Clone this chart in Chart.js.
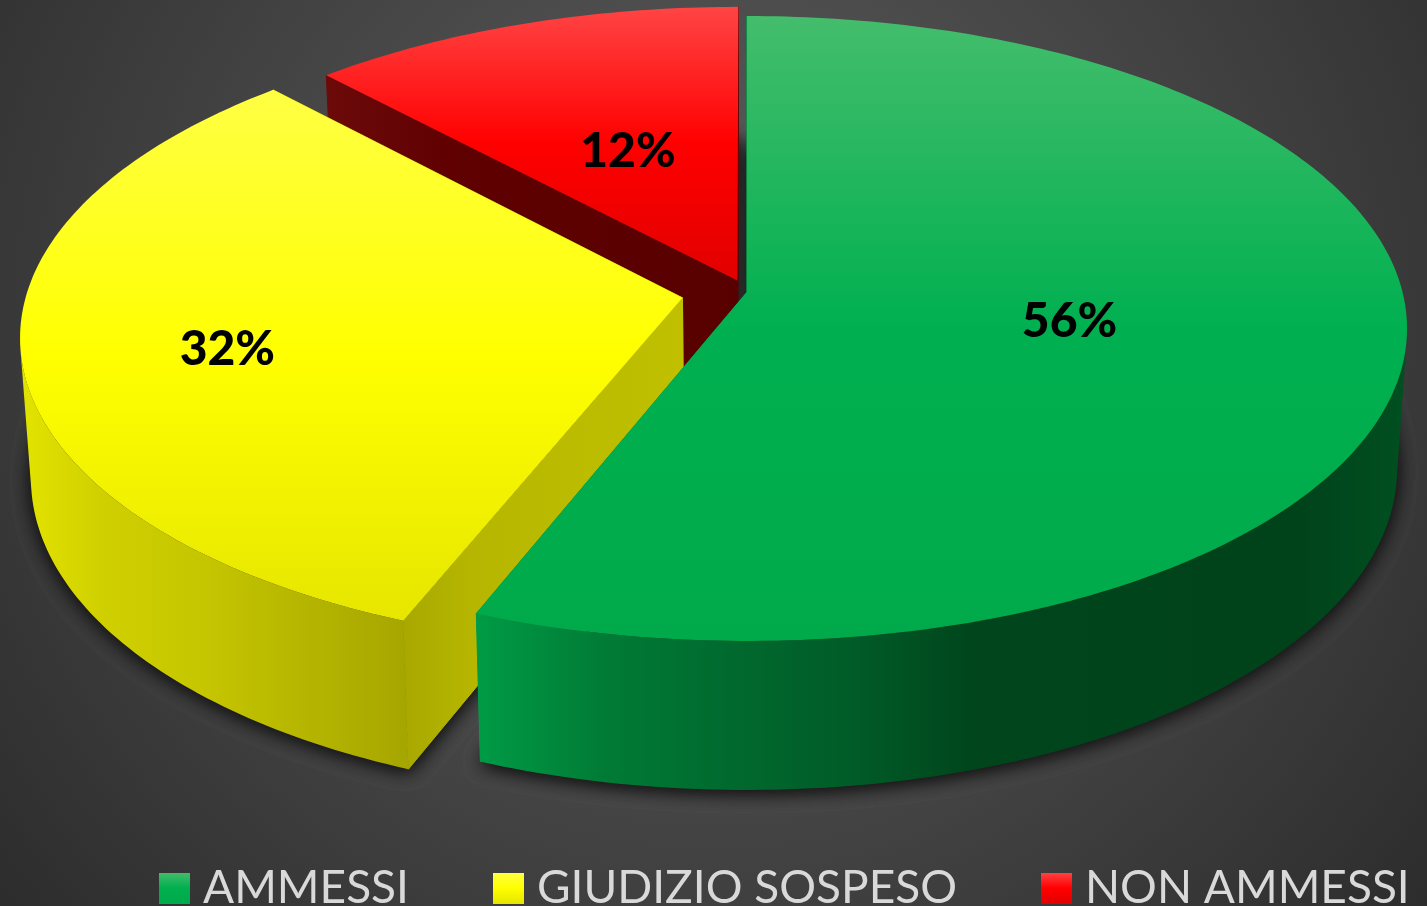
<!DOCTYPE html>
<html><head><meta charset="utf-8">
<style>html,body{margin:0;padding:0;width:1427px;height:906px;overflow:hidden;background:#3c3c3c}canvas{display:block}</style>
<script src="https://cdn.jsdelivr.net/npm/chart.js@4"></script>
</head><body><canvas id="c" width="1600" height="921"></canvas>
<script>
const categories = ['AMMESSI', 'GIUDIZIO SOSPESO', 'NON AMMESSI'];
const percentages = [56, 32, 12];
const baseColors = ['#00b050', '#ffff00', '#ff0000'];
const explode = [0, 30, 12];
const topStops = [['#44bd6c','#00b050','#00aa4a'],['#ffff44','#ffff00','#e6e600'],['#ff4444','#ff0000','#e20000']];
const rimStops = [
  [[473,'#009c46'],[600,'#007c36'],[730,'#006a2e'],[850,'#005c28'],[975,'#00451c'],[1300,'#00431b'],[1400,'#004f20']],
  [[28,'#e2e200'],[100,'#d0d000'],[200,'#c6c600'],[300,'#b6b600'],[405,'#a6a600']],
  [[330,'#6c0c0c'],[740,'#5a0000']]
];
const faceStops = [
  [[473,'#009c46'],[750,'#009c46']],
  [[405,'#a8a800'],[470,'#b6b600'],[682,'#c0c000']],
  [[330,'#6c0a0a'],[450,'#600000'],[740,'#580000']]
];
const labelPlace = [{r:.5,dx:-3,dy:0},{r:.69,dx:-2,dy:11},{r:.5,dx:4,dy:6}];

// perspective view of the pie
const view = {cx:747, k:0.1168, A:-274.1, B:292, R:655.5, s:0.985, d0:140, d1:9/313, yc:328};
function project(u, v, low) {
  const w = 1 + view.k * v;
  let x = view.cx + view.R * u / w, y = (view.A * v + view.B) / w;
  if (low) { const d = view.d0 + view.d1 * (y - view.yc); x = view.cx + view.s * (x - view.cx); y += d; }
  return [x, y];
}
function geom(arc) {
  const R = arc.outerRadius, mid = (arc.startAngle + arc.endAngle) / 2, off = (arc.options.offset || 0) / R;
  const ox = Math.cos(mid) * off, oy = Math.sin(mid) * off;
  const pt = (a, r, low) => project(ox + Math.cos(a) * r, -(oy + Math.sin(a) * r), low);
  const rim = low => { const n = Math.max(8, Math.round((arc.endAngle - arc.startAngle) * 60)), out = [];
    for (let i = 0; i <= n; i++) out.push(pt(arc.startAngle + (arc.endAngle - arc.startAngle) * i / n, 1, low));
    return out; };
  return {pt, mid, rimTop: rim(false), rimLow: rim(true), apexTop: pt(0,0,false), apexLow: pt(0,0,true)};
}
function poly(ctx, pts) { ctx.beginPath(); addPoly(ctx, pts); }
function addPoly(ctx, pts) { pts.forEach((p,i)=> i ? ctx.lineTo(p[0],p[1]) : ctx.moveTo(p[0],p[1])); ctx.closePath(); }
function area(q) { let s = 0; q.forEach((p,i)=>{ const n = q[(i+1)%q.length]; s += p[0]*n[1]-n[0]*p[1]; }); return s; }
function hGrad(ctx, stops) {
  const a = stops[0][0], b = stops[stops.length-1][0], g = ctx.createLinearGradient(a,0,b,0);
  stops.forEach(s => g.addColorStop((s[0]-a)/(b-a), s[1])); return g;
}
const pie3d = {
  id: 'pie3d',
  beforeDraw(chart) {
    const ctx = chart.ctx;
    const g = ctx.createRadialGradient(713,330,60,713,330,960);
    g.addColorStop(0,'#5c5c5c'); g.addColorStop(1,'#2a2a2a');
    ctx.fillStyle = g; ctx.fillRect(0,0,chart.width,chart.height);
  },
  beforeDatasetsDraw(chart) {
    const ctx = chart.ctx, arcs = chart.getDatasetMeta(0).data;
    const G = arcs.map(geom);
    // ground shadow
    ctx.save();
    ctx.shadowColor = 'rgba(20,20,20,0.95)'; ctx.shadowBlur = 18; ctx.shadowOffsetY = 2; ctx.fillStyle = '#202020';
    [0,1].forEach(() => G.forEach(g => { poly(ctx, [g.apexLow, ...g.rimLow]); ctx.fill(); }));
    ctx.restore();
    // back to front
    [2,1,0].forEach(i => {
      const g = G[i];
      const ends = [g.rimTop[0], g.rimLow[0]], ende = [g.rimTop[g.rimTop.length-1], g.rimLow[g.rimLow.length-1]];
      ctx.fillStyle = ctx.strokeStyle = hGrad(ctx, faceStops[i]); ctx.lineWidth = 1;
      poly(ctx, [g.apexTop, ends[0], ends[1], g.apexLow]); ctx.fill(); ctx.stroke();
      poly(ctx, [g.apexTop, ende[0], ende[1], g.apexLow]); ctx.fill(); ctx.stroke();
      ctx.fillStyle = hGrad(ctx, rimStops[i]);
      ctx.beginPath();
      for (let j = 0; j + 1 < g.rimTop.length; j++) {
        const q = [g.rimTop[j], g.rimTop[j+1], g.rimLow[j+1], g.rimLow[j]];
        if (area(q) < 0) addPoly(ctx, q);
      }
      ctx.fill();
      const top = [g.apexTop, ...g.rimTop];
      const ys = top.map(p=>p[1]), y0 = Math.min(...ys), y1 = Math.max(...ys);
      const t = ctx.createLinearGradient(0,y0,0,y1);
      t.addColorStop(0,topStops[i][0]); t.addColorStop(.5,topStops[i][1]); t.addColorStop(1,topStops[i][2]);
      ctx.fillStyle = t; poly(ctx, top); ctx.fill();
    });
    // value labels
    ctx.fillStyle = '#000'; ctx.font = '900 48px Lato'; ctx.textAlign = 'center'; ctx.textBaseline = 'middle';
    G.forEach((g,i) => { const p = g.pt(g.mid, labelPlace[i].r, false);
      ctx.fillText(percentages[i] + '%', p[0] + labelPlace[i].dx, p[1] + labelPlace[i].dy); });
    return false;
  }
};
function swatch(i) {
  const c = document.createElement('canvas'); c.width = 31; c.height = 31;
  const x = c.getContext('2d'), t = x.createLinearGradient(0,0,0,31);
  t.addColorStop(0,topStops[i][0]); t.addColorStop(.5,topStops[i][1]); t.addColorStop(1,topStops[i][2]);
  x.fillStyle = t; x.fillRect(0,0,31,31); return c;
}
new Chart(document.getElementById('c'), {
  type: 'pie',
  data: { labels: categories, datasets: [{ data: percentages, backgroundColor: baseColors, borderWidth: 0, offset: explode, radius: 300 }] },
  options: {
    responsive: false, animation: false, devicePixelRatio: 1,
    layout: { padding: { left: 75, right: 0, top: 0, bottom: 0 } },
    plugins: {
      tooltip: { enabled: false },
      legend: { position: 'bottom', align: 'start',
        labels: { color: '#d9d9d9', font: { family: 'Lato', size: 46 }, padding: 94, boxWidth: 11, usePointStyle: true,
          generateLabels: c => categories.map((t,i) => ({ text: t, fontColor: '#d9d9d9', fillStyle: baseColors[i], pointStyle: swatch(i), lineWidth: 0, hidden: false, index: i })) } }
    }
  },
  plugins: [pie3d]
});
</script></body></html>
